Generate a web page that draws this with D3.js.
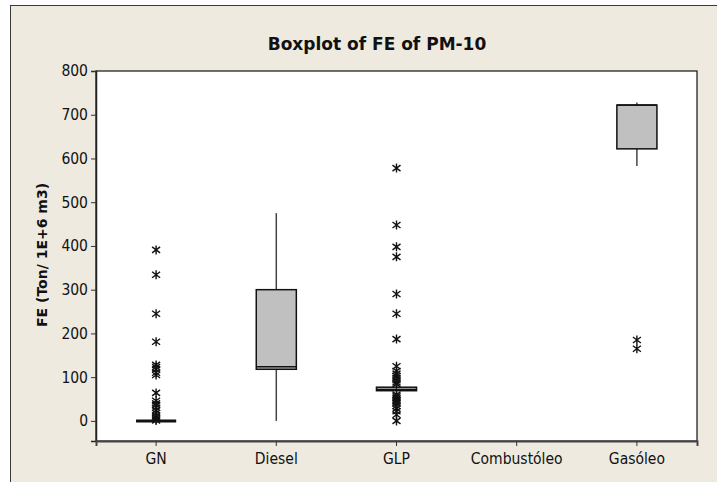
<!DOCTYPE html>
<html><head><meta charset="utf-8">
<script src="https://cdn.jsdelivr.net/npm/d3@7"></script>
<style>
body{margin:0;background:#fff;}
svg{display:block;}
text{font-family:"DejaVu Sans Condensed","DejaVu Sans",sans-serif;font-stretch:condensed;fill:#111;}
</style></head><body>
<script>
const categories = ["GN","Diesel","GLP","Combustóleo","Gasóleo"];
const q1Values     = [0, 118, 69, null, 622];
const medianValues = [0, 124, 72, null, 722];
const q3Values     = [0, 300, 77, null, 722];
const whiskerLow   = [0, 0, 69, null, 583];
const whiskerHigh  = [0, 475, 77, null, 728];
const gnOutliers   = [391, 334, 245, 181, 128, 123, 118, 110, 105, 64, 46, 40, 36, 30, 24, 18, 12, 8, 4, 1];
const dieselOutliers = [];
const glpOutliers  = [578, 448, 398, 375, 290, 245, 187, 125, 114, 108, 103, 98, 93, 88, 84, 60, 56, 52, 48, 44, 40, 34, 28, 22, 14, 0];
const combOutliers = [];
const gasOutliers  = [185, 165];
const outlierLists = [gnOutliers, dieselOutliers, glpOutliers, combOutliers, gasOutliers];
const yTicks = [0,100,200,300,400,500,600,700,800];
const yDomain = [-46, 800];

const W = 717, H = 482;
const plot = {left:96, right:697, top:71, bottom:441};

const svg = d3.select("body").append("svg").attr("width",W).attr("height",H);
// outer frame
svg.append("rect").attr("x",10.5).attr("y",5.5).attr("width",W+20).attr("height",H+20)
  .attr("fill","#EEEAE0").attr("stroke","#3a3a3a").attr("stroke-width",1);

const x = d3.scaleBand().domain(categories).range([plot.left, plot.right]).padding(0);
const y = d3.scaleLinear().domain(yDomain).range([plot.bottom, plot.top]);

// plot area
svg.append("rect").attr("x",plot.left).attr("y",plot.top)
  .attr("width",plot.right-plot.left).attr("height",plot.bottom-plot.top)
  .attr("fill","#fff").attr("stroke","#111").attr("stroke-width",1.2);

// axes
const yAxis = d3.axisLeft(y).tickValues(yTicks).tickSize(5).tickPadding(3).tickFormat(d3.format("d"));
const gy = svg.append("g").attr("transform",`translate(${plot.left},0)`).call(yAxis);
gy.select(".domain").attr("stroke","#222").attr("stroke-width",1.5);
gy.selectAll(".tick line").attr("stroke","#333");
gy.selectAll("text").style("font-size","15.5px").attr("fill","#111");

const xAxis = d3.axisBottom(x).tickSize(5).tickPadding(7);
const gx = svg.append("g").attr("transform",`translate(0,${plot.bottom})`).call(xAxis);
gx.select(".domain").attr("stroke","#444").attr("stroke-width",2);
gx.selectAll(".tick line").attr("stroke","#333");
gx.selectAll("text").style("font-size","15.5px").attr("fill","#111");

// title
svg.append("text").attr("x",377).attr("y",50).attr("text-anchor","middle")
  .style("font-size","17px").style("font-weight","bold").style("font-stretch","normal")
  .style("font-family","'DejaVu Sans',sans-serif").text("Boxplot of FE of PM-10");
// y label
svg.append("text").attr("transform","translate(47,255) rotate(-90)").attr("text-anchor","middle")
  .style("font-size","14px").style("font-weight","bold").style("font-stretch","normal")
  .style("font-family","'DejaVu Sans',sans-serif").text("FE (Ton/ 1E+6 m3)");

const bw = x.bandwidth()/3;
const star = "M0,-4.5L0,4.5M-4,-3L4,3M-4,3L4,-3";

categories.forEach((c,i)=>{
  const cx = x(c) + x.bandwidth()/2;
  const g = svg.append("g");
  if (q1Values[i] !== null) {
    // whiskers
    g.append("line").attr("x1",cx).attr("x2",cx).attr("y1",y(q3Values[i])).attr("y2",y(whiskerHigh[i]))
      .attr("stroke","#444").attr("stroke-width",1.5);
    g.append("line").attr("x1",cx).attr("x2",cx).attr("y1",y(q1Values[i])).attr("y2",y(whiskerLow[i]))
      .attr("stroke","#444").attr("stroke-width",1.5);
    // box
    g.append("rect").attr("x",cx-bw/2).attr("width",bw)
      .attr("y",y(q3Values[i])).attr("height",Math.max(0,y(q1Values[i])-y(q3Values[i])))
      .attr("fill","#C0C0C0").attr("stroke","#111").attr("stroke-width",1.5);
    // median
    g.append("line").attr("x1",cx-bw/2).attr("x2",cx+bw/2).attr("y1",y(medianValues[i])).attr("y2",y(medianValues[i]))
      .attr("stroke","#111").attr("stroke-width",1.5);
    if (q1Values[i] === q3Values[i]) {
      g.append("line").attr("x1",cx-bw/2).attr("x2",cx+bw/2).attr("y1",y(medianValues[i])).attr("y2",y(medianValues[i]))
        .attr("stroke","#111").attr("stroke-width",3);
    }
  }
  g.selectAll("path.out").data(outlierLists[i]).join("path").attr("class","out")
    .attr("d",star).attr("transform",d=>`translate(${cx},${y(d)})`)
    .attr("fill","none").attr("stroke","#111").attr("stroke-width",1.4);
});
</script></body></html>
